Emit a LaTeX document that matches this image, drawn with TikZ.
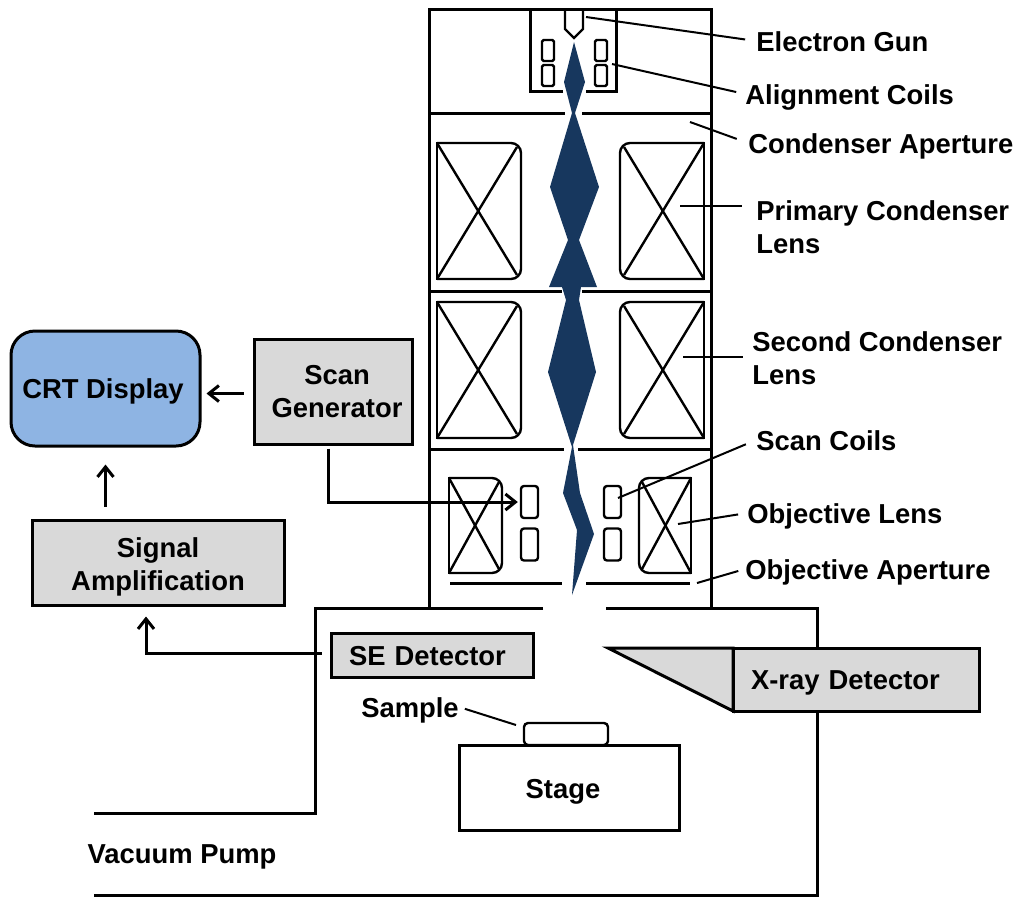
\documentclass[tikz,border=0pt]{standalone}
\usepackage{fontspec}
\setmainfont{Liberation Sans}
\usetikzlibrary{arrows.meta}

\def\BeamFill{beamblue}
\definecolor{beamblue}{HTML}{17375E}
\definecolor{crtblue}{HTML}{8EB4E3}
\definecolor{boxgray}{HTML}{D9D9D9}

\tikzset{
  wall/.style={line width=1.5pt},
  thinline/.style={line width=1.2pt},
  leader/.style={line width=1pt},
  flowline/.style={line width=1.5pt,-{Straight Barb[length=5pt,width=8pt,line width=1.5pt]}},
  label/.style={font=\fontsize{13.7}{16.5}\selectfont\bfseries,inner sep=0pt},
  oneline/.style={label,text height=10pt,text depth=0pt},
  graybox/.style={label,draw,wall,fill=boxgray,align=center,minimum height=#1*0.5pt},
  coil/.style={draw,thinline,inner sep=0pt,fill=white}
}

\begin{document}
\begin{tikzpicture}[x=0.5pt,y=-0.5pt]
  \useasboundingbox (0,0) rectangle (1018,896);

  % --- Column ---
  \draw[wall] (429,607) -- (429,9) -- (711,9) -- (711,607);
  \foreach \y/\a/\b in {113/565/582,291/562/582,449/564/578}
  {
    \draw[wall] (430,\y) -- (\a,\y);
    \draw[wall] (\b,\y) -- (711,\y);
  }
  \draw[wall] (563,91) -- (530,91) -- (530,9);
  \draw[wall] (586,91) -- (616,91) -- (616,9);
  \draw[thinline] (565,10) -- (565,29) -- (574,38) -- (583,29) -- (583,10);

  % --- Beam ---
  \fill[\BeamFill] (574,42) -- (585,82) -- (575,113) -- (599,187) -- (579,240)
    -- (597,287) -- (581,287) -- (579,300) -- (596,372) -- (573,445)
    -- (580,493) -- (594,534) -- (572,595) -- (577,530) -- (563,493)
    -- (572,447) -- (548,372) -- (566,300) -- (562,287) -- (549,287)
    -- (568,240) -- (550,187) -- (572,113) -- (564,82) -- cycle;

  % --- Lenses ---
  \foreach \xa/\xb/\xc/\ya/\yb in {%
    437/521/517/143/279,
    704/620/624/143/279,
    437/521/517/302/438,
    704/620/624/302/438,
    449/502/499/478/573,
    691/639/642/478/573
  }{
    \draw[thinline,rounded corners=5pt] (\xa,\ya) -- (\xb,\ya) -- (\xb,\yb) -- (\xa,\yb);
    \draw[thinline,line cap=rect] (\xa,\ya) -- (\xa,\yb);
    \draw[thinline] (\xa,\ya) -- (\xc,\yb-4);
    \draw[thinline] (\xa,\yb) -- (\xc,\ya+4);
  }

  % --- Coils ---
  \foreach \n/\x/\y in {alignA/548/50.5,alignB/548/75.5,alignC/601/50.5,alignD/601/75.5}
  {
    \node[coil,rounded corners=0.8pt,minimum width=6pt,minimum height=10.5pt] (\n) at (\x,\y) {};
  }
  \foreach \n/\x/\y in {scanA/529.5/502,scanB/529.5/544.5,scanC/612.5/502,scanD/612.5/544.5}
  {
    \node[coil,rounded corners=1.5pt,minimum width=8.5pt,minimum height=16pt] (\n) at (\x,\y) {};
  }

  % --- Apertures ---
  \draw[wall] (450,583) -- (562,583);
  \draw[wall] (586,583) -- (690,583);

  % --- Chamber ---
  \draw[wall] (543,608) -- (315,608) -- (315,813) -- (94,813);
  \draw[wall] (606,608) -- (817,608) -- (817,895) -- (94,895);
  \node[oneline] (vacuum) at (182,853) {Vacuum Pump};
  \node[draw,thinline,rounded corners=2pt,inner sep=0pt,minimum width=42pt,minimum height=11pt] (sample) at (566,734) {};
  \node[oneline,text height=11.3pt,draw,wall,fill=white,minimum width=110pt,minimum height=42.5pt] (stage) at (569,787.5) {\hspace*{-6pt}Stage};
  \node[oneline] (sampletext) at (410,707) {Sample};
  \draw[leader,shorten >=3pt] (516,725) -- (sampletext.east);

  % --- Detectors ---
  \node[graybox=44,oneline,text width=83pt,inner xsep=9pt,align=left] (sedetector) at (432,655.5) {SE Detector};
  \filldraw[wall,fill=boxgray] (608,648) -- (733,648) -- (733,711) -- cycle;
  \node[graybox=63,oneline,text width=105pt,inner xsep=9pt,align=left] (xray) at (856,679.5) {X-ray Detector};

  % --- Blocks ---
  \node[graybox=115,oneline,fill=crtblue,rounded corners=12pt,minimum width=94.5pt] (crt) at (105.5,388.5) {CRT Display\hspace*{2.5pt}};
  \node[graybox=105,minimum width=79pt] (scangen) at (333,391.5) {\hspace*{4pt}Scan\\\hspace*{4pt}Generator};
  \node[graybox=85,minimum width=126pt] (signal) at (158,562.5) {\rule{0pt}{13.9pt}Signal\\Amplification};

  \draw[flowline,shorten <=4.5pt,shorten >=2.5pt] ([yshift=-1pt]scangen.west) -- ([yshift=-1pt]scangen.west -| crt.east);
  \draw[flowline,shorten <=6pt,shorten >=8.5pt] (crt.south |- signal.north) -- (crt.south);
  \draw[flowline,shorten <=4pt,shorten >=5pt] ([yshift=1pt]sedetector.west) -| ([xshift=-6pt]signal.south);
  \draw[flowline,shorten <=1.5pt,shorten >=1pt] ([xshift=-2.5pt]scangen.south) |- (scanA.west);

  % --- Labels ---
  \foreach \n/\x/\y/\t in {%
    lblgun/756/41/Electron Gun,
    lblalign/745/94/Alignment Coils,
    lblaperture/748/143/Condenser Aperture,
    lblscan/756/440/Scan Coils,
    lblobjective/747/513/Objective Lens,
    lblobjap/745/569/Objective Aperture
  }{
    \node[oneline,anchor=west] (\n) at (\x,\y) {\t};
  }
  \node[label,anchor=west,align=left] (lblprimary) at (756,227.5) {Primary Condenser\\Lens};
  \node[label,anchor=west,align=left] (lblsecond) at (752,358.5) {Second Condenser\\Lens};

  % --- Leaders ---
  \foreach \x/\y/\n/\s in {%
    586/17/lblgun/5.5pt,
    612/64/lblalign/4.5pt,
    690/122/lblaperture/6pt,
    618/498/lblscan/5.5pt,
    678/524/lblobjective/4.5pt,
    697/583/lblobjap/3.5pt
  }{
    \draw[leader,shorten >=\s] (\x,\y) -- (\n.west);
  }
  \coordinate (primarytip) at (680,206);
  \coordinate (secondtip) at (683,357);
  \draw[leader,shorten >=7pt] (primarytip) -- (primarytip -| lblprimary.west);
  \draw[leader,shorten >=4.5pt] (secondtip) -- (secondtip -| lblsecond.west);
\end{tikzpicture}
\end{document}
